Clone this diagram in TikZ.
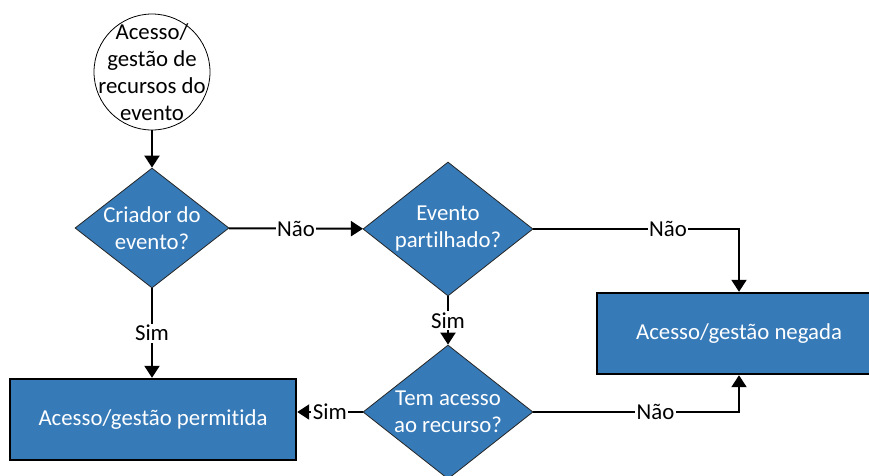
\documentclass[tikz,border=0pt]{standalone}
\usepackage{fontspec}
\setmainfont{Carlito}[Ligatures=NoCommon]
\usetikzlibrary{arrows.meta,shapes.geometric}
\definecolor{flowblue}{RGB}{54,122,184}
\begin{document}
\begin{tikzpicture}[x=1pt,y=-1pt,
  font=\fontsize{22.8}{27}\selectfont,
  startnode/.style={circle, draw=black, line width=0.8pt, fill=white,
    minimum size=116pt, inner sep=-20pt, align=center},
  decision/.style={diamond, draw=black!85, line width=0.8pt, fill=flowblue,
    text=white, inner sep=-6pt, align=center},
  outcome/.style={rectangle, draw=black, line width=2.4pt, fill=flowblue,
    text=white, inner sep=0pt, minimum height=81pt},
  flow/.style={line width=2pt, -{Triangle[length=12pt,width=15pt]}},
  answer/.style={fill=white, inner sep=1.5pt, text=black}
]
\useasboundingbox (0,0) rectangle (869,475);

% shapes
\node[startnode] (start) at (152,72) {Acesso/\\gestão de\\recursos do\\evento};
\node[decision, minimum width=154pt, minimum height=120pt] (creator) at (152,228)
  {Criador do\\evento?};
\node[decision, minimum width=170pt, minimum height=134pt] (shared) at (448,229)
  {Evento\\partilhado?};
\node[decision, minimum width=170pt, minimum height=134pt] (access) at (448,412)
  {Tem acesso\\ao recurso?};
\node[outcome, minimum width=286pt] (allowed) at (153,419.5) {Acesso/gestão permitida};
\node[outcome, minimum width=284pt] (denied) at (739,333.5) {Acesso/gestão negada};

% connectors
\draw[flow] (start) -- (creator);
\draw[flow] (creator) -- node[answer]{Não} (shared);
\draw[flow] (creator.south) -- node[answer]{Sim} (creator.south |- allowed.north);
\draw[flow] (shared.east) -- node[answer, pos=0.655]{Não} (shared.east -| denied.north)
  -- (denied.north);
\draw[flow] (shared) -- node[answer]{Sim} (access);
\draw[flow] (access.west) -- node[answer]{Sim} (access.west -| allowed.east);
\draw[flow] (access.east) -- node[answer, pos=0.594]{Não} (access.east -| denied.south)
  -- (denied.south);
\end{tikzpicture}
\end{document}
